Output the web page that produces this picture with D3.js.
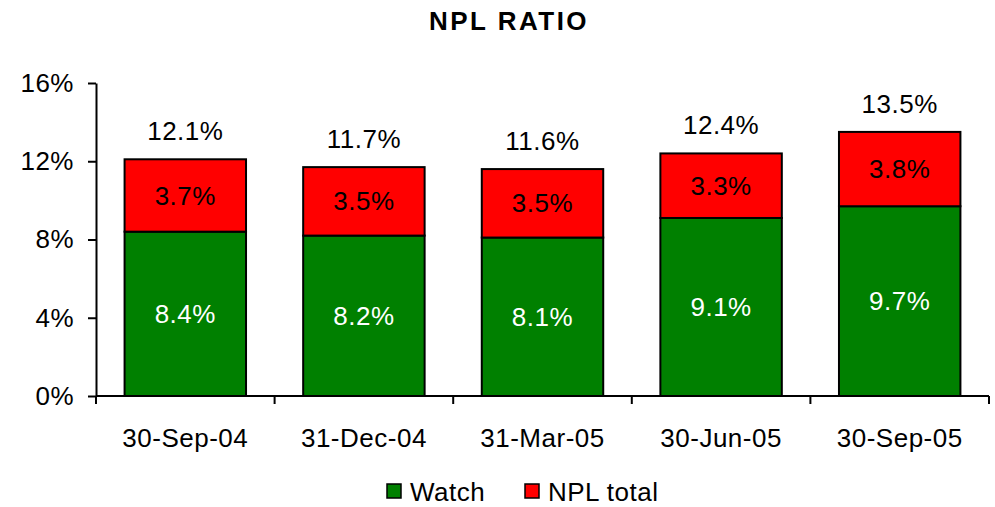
<!DOCTYPE html>
<html><head><meta charset="utf-8">
<script src="https://cdn.jsdelivr.net/npm/d3@7"></script>
<style>body{margin:0;background:#fff;} text{font-family:"Liberation Sans",Arial,sans-serif;}</style>
</head><body>
<svg id="c" width="995" height="507"></svg>
<script>
const categories = ["30-Sep-04","31-Dec-04","31-Mar-05","30-Jun-05","30-Sep-05"];
const watch = [8.4, 8.2, 8.1, 9.1, 9.7];
const nplTotal = [3.7, 3.5, 3.5, 3.3, 3.8];
const totals = [12.1, 11.7, 11.6, 12.4, 13.5];
const yTicks = [0, 4, 8, 12, 16];
const seriesNames = ["Watch", "NPL total"];
const colors = ["#008000", "#ff0000"];

const svg = d3.select("#c");
const m = {l: 96, r: 6, t: 83, b: 111};
const W = 995, H = 507;
const x = d3.scaleBand().domain(categories).range([m.l, W - m.r]).paddingInner(0.32).paddingOuter(0.16);
const y = d3.scaleLinear().domain([0, 16]).range([H - m.b, m.t]);

svg.append("text").attr("x", 509).attr("y", 30).attr("text-anchor", "middle")
  .style("font-weight", "bold")
  .style("font-size", "26px").style("letter-spacing", "2.5px").text("NPL RATIO");

const fs = "26px";
const ls = "0.5px";
// y axis
const ya = svg.append("g").attr("transform", `translate(${m.l},0)`)
  .call(d3.axisLeft(y).tickValues(yTicks).tickFormat(d => d + "%").tickSize(8).tickSizeOuter(0).tickPadding(14));
ya.select(".domain").attr("stroke", "#000").attr("stroke-width", 2);
ya.selectAll(".tick line").attr("stroke", "#000").attr("stroke-width", 2);
ya.selectAll("text").style("font-size", fs).style("letter-spacing", ls).attr("fill", "#000").style("font-family", "'Liberation Sans',Arial,sans-serif");

// x axis
const xa = svg.append("g").attr("transform", `translate(0,${y(0)})`)
  .call(d3.axisBottom(x).tickSize(0).tickPadding(33));
xa.select(".domain").attr("stroke", "#000").attr("stroke-width", 2).attr("d", `M${m.l},0H${W - m.r}`);
xa.selectAll(".tick line").remove();
xa.selectAll("text").style("font-size", fs).style("letter-spacing", ls).attr("fill", "#000").style("font-family", "'Liberation Sans',Arial,sans-serif");
// category boundary ticks
const bounds = d3.range(categories.length + 1).map(i => m.l + i * (W - m.r - m.l) / categories.length);
svg.append("g").selectAll("line").data(bounds).join("line")
  .attr("x1", d => d).attr("x2", d => d).attr("y1", y(0)).attr("y2", y(0) + 8)
  .attr("stroke", "#000").attr("stroke-width", 2);

// bars
const stack = categories.map((c, i) => ({c, w: watch[i], n: nplTotal[i], t: totals[i]}));
const g = svg.append("g");
stack.forEach(d => {
  g.append("rect").attr("x", x(d.c)).attr("width", x.bandwidth())
    .attr("y", y(d.w)).attr("height", y(0) - y(d.w))
    .attr("fill", colors[0]).attr("stroke", "#000").attr("stroke-width", 2);
  g.append("rect").attr("x", x(d.c)).attr("width", x.bandwidth())
    .attr("y", y(d.w + d.n)).attr("height", y(d.w) - y(d.w + d.n))
    .attr("fill", colors[1]).attr("stroke", "#000").attr("stroke-width", 2);
  const cx = x(d.c) + x.bandwidth() / 2;
  g.append("text").attr("x", cx).attr("y", (y(0) + y(d.w)) / 2).attr("dy", "0.35em")
    .attr("text-anchor", "middle").attr("fill", "#fff").style("font-size", fs).style("letter-spacing", ls).text(d.w.toFixed(1) + "%");
  g.append("text").attr("x", cx).attr("y", (y(d.w) + y(d.w + d.n)) / 2).attr("dy", "0.35em")
    .attr("text-anchor", "middle").attr("fill", "#000").style("font-size", fs).style("letter-spacing", ls).text(d.n.toFixed(1) + "%");
  g.append("text").attr("x", cx).attr("y", y(d.t) - 19)
    .attr("text-anchor", "middle").attr("fill", "#000").style("font-size", fs).style("letter-spacing", ls).text(d.t.toFixed(1) + "%");
});

// legend
const leg = svg.append("g");
const lx = [387, 525];
seriesNames.forEach((s, i) => {
  leg.append("rect").attr("x", lx[i]).attr("y", 484).attr("width", 14).attr("height", 14)
    .attr("fill", colors[i]).attr("stroke", "#000").attr("stroke-width", 1.5);
  leg.append("text").attr("x", lx[i] + 23).attr("y", 501).attr("fill", "#000")
    .style("font-size", fs).style("letter-spacing", ls).text(s);
});
</script>
</body></html>
